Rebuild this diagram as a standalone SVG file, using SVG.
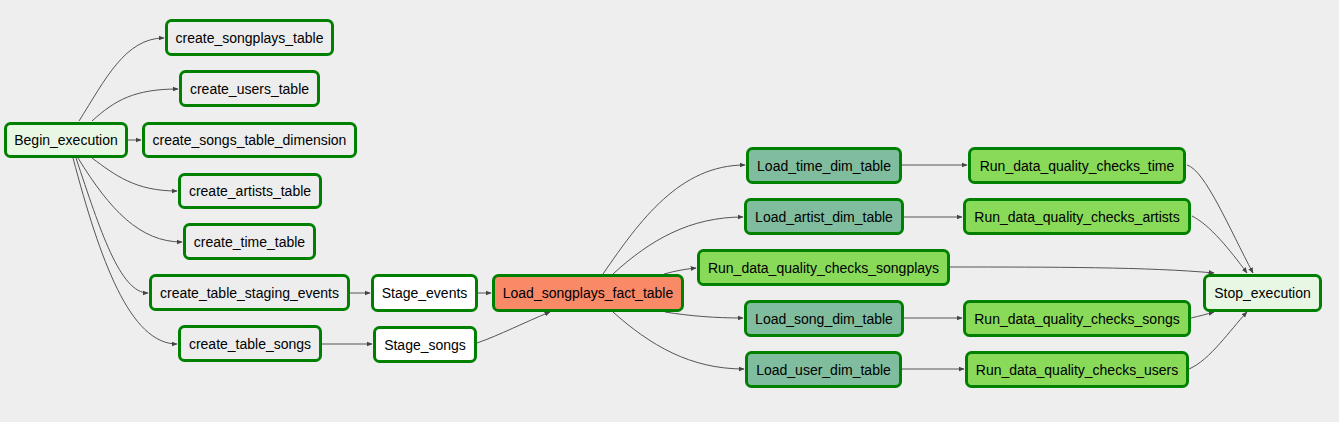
<svg xmlns="http://www.w3.org/2000/svg" width="1339" height="422" viewBox="0 0 1339 422">
<style>
.n rect{stroke:#008000;stroke-width:3;}
.n text{font-family:"Liberation Sans",Arial,sans-serif;font-size:14px;fill:#000;text-anchor:middle;}
.dummy rect{fill:#e8f7e4;}
.pg rect{fill:#ededed;}
.stage rect{fill:#ffffff;}
.fact rect{fill:#f98a68;}
.dim rect{fill:#80bd9e;}
.dq rect{fill:#89da59;}
#edges path{fill:none;stroke:#555;stroke-width:1;marker-end:url(#arr);}
</style>
<defs>
<marker id="arr" viewBox="0 0 10 10" refX="9" refY="5" markerWidth="6" markerHeight="6" markerUnits="userSpaceOnUse" orient="auto">
<path d="M0,1 L10,5 L0,9 z" fill="#444"/>
</marker>
</defs>
<rect width="1339" height="422" fill="#eeeeee"/>
<g id="edges">
<path d="M79,121 C105,80 125,38 164,38"/>
<path d="M92,121 C115,100 135,89 178,89"/>
<path d="M128,140 L141,140"/>
<path d="M92,158 C115,175 135,191 177,191"/>
<path d="M78,158 C110,210 140,242 182,242"/>
<path d="M76,158 C100,230 120,293 148,293"/>
<path d="M73,158 C100,260 130,344 177,344"/>
<path d="M350,293 L370,293"/>
<path d="M322,344 L372,344"/>
<path d="M478,293 L491,293"/>
<path d="M477,343 C500,335 525,322 550,312"/>
<path d="M603,274 C640,220 680,165 745,165"/>
<path d="M613,274 C650,240 690,217 743,217"/>
<path d="M664,274 C675,271 685,269 696,268"/>
<path d="M665,312 C690,316 715,318 743,318"/>
<path d="M613,312 C650,345 690,369 744,369"/>
<path d="M902,165 L967,165"/>
<path d="M904,217 L962,217"/>
<path d="M904,318 L962,318"/>
<path d="M902,369 L964,369"/>
<path d="M1187,165 C1205,170 1230,230 1253,273"/>
<path d="M1192,216 C1210,225 1230,250 1247,273"/>
<path d="M950,267 C1050,267 1150,267 1214,273"/>
<path d="M1191,318 C1200,316 1207,314 1214,312"/>
<path d="M1189,369 C1210,360 1230,330 1247,312"/>
</g>
<g id="Begin_execution" class="n dummy"><rect x="5.5" y="123.5" width="121" height="33" rx="5"/><text x="66" y="145">Begin_execution</text></g>
<g id="create_songplays_table" class="n pg"><rect x="166.5" y="20.5" width="166" height="34" rx="5"/><text x="249.5" y="42.5">create_songplays_table</text></g>
<g id="create_users_table" class="n pg"><rect x="180.5" y="71.5" width="138" height="34" rx="5"/><text x="249.5" y="93.5">create_users_table</text></g>
<g id="create_songs_table_dimension" class="n pg"><rect x="143.5" y="123.5" width="212" height="33" rx="5"/><text x="249.5" y="145">create_songs_table_dimension</text></g>
<g id="create_artists_table" class="n pg"><rect x="179.5" y="174.5" width="141" height="33" rx="5"/><text x="250" y="196">create_artists_table</text></g>
<g id="create_time_table" class="n pg"><rect x="184.5" y="224.5" width="130" height="34" rx="5"/><text x="249.5" y="246.5">create_time_table</text></g>
<g id="create_table_staging_events" class="n pg"><rect x="150.5" y="275.5" width="198" height="34" rx="5"/><text x="249.5" y="297.5">create_table_staging_events</text></g>
<g id="create_table_songs" class="n pg"><rect x="179.5" y="326.5" width="141" height="34" rx="5"/><text x="250" y="348.5">create_table_songs</text></g>
<g id="Stage_events" class="n stage"><rect x="372.5" y="275.5" width="104" height="35" rx="5"/><text x="424.5" y="298">Stage_events</text></g>
<g id="Stage_songs" class="n stage"><rect x="374.5" y="327.5" width="101" height="34" rx="5"/><text x="425" y="349.5">Stage_songs</text></g>
<g id="Load_songplays_fact_table" class="n fact"><rect x="493.5" y="275.5" width="189" height="35" rx="5"/><text x="588" y="298">Load_songplays_fact_table</text></g>
<g id="Load_time_dim_table" class="n dim"><rect x="747.5" y="148.5" width="153" height="34" rx="5"/><text x="824" y="170.5">Load_time_dim_table</text></g>
<g id="Load_artist_dim_table" class="n dim"><rect x="745.5" y="199.5" width="157" height="34" rx="5"/><text x="824" y="221.5">Load_artist_dim_table</text></g>
<g id="Run_data_quality_checks_songplays" class="n dq"><rect x="698.5" y="250.5" width="250" height="34" rx="5"/><text x="823.5" y="272.5">Run_data_quality_checks_songplays</text></g>
<g id="Load_song_dim_table" class="n dim"><rect x="745.5" y="301.5" width="157" height="34" rx="5"/><text x="824" y="323.5">Load_song_dim_table</text></g>
<g id="Load_user_dim_table" class="n dim"><rect x="746.5" y="352.5" width="154" height="34" rx="5"/><text x="823.5" y="374.5">Load_user_dim_table</text></g>
<g id="Run_data_quality_checks_time" class="n dq"><rect x="969.5" y="148.5" width="215" height="34" rx="5"/><text x="1077" y="170.5">Run_data_quality_checks_time</text></g>
<g id="Run_data_quality_checks_artists" class="n dq"><rect x="964.5" y="199.5" width="225" height="34" rx="5"/><text x="1077" y="221.5">Run_data_quality_checks_artists</text></g>
<g id="Run_data_quality_checks_songs" class="n dq"><rect x="964.5" y="301.5" width="225" height="34" rx="5"/><text x="1077" y="323.5">Run_data_quality_checks_songs</text></g>
<g id="Run_data_quality_checks_users" class="n dq"><rect x="966.5" y="352.5" width="221" height="34" rx="5"/><text x="1077" y="374.5">Run_data_quality_checks_users</text></g>
<g id="Stop_execution" class="n dummy"><rect x="1204.5" y="275.5" width="116" height="35" rx="5"/><text x="1262.5" y="298">Stop_execution</text></g>
</svg>
